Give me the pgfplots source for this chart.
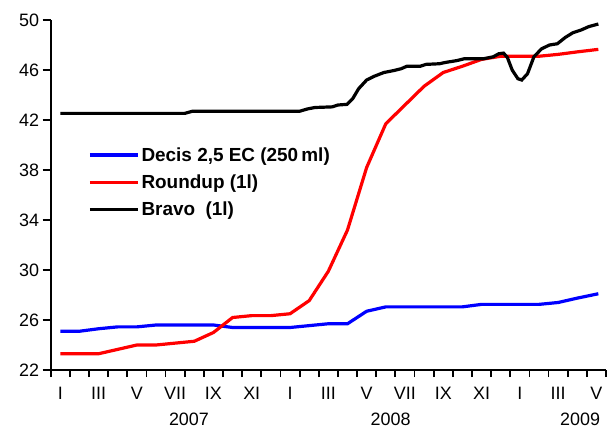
\documentclass[border=0pt]{standalone}
\usepackage{fontspec}
\setmainfont{Liberation Sans}
\usepackage{pgfplots}
\pgfplotsset{compat=1.18}

\begin{document}
\begin{tikzpicture}
\begin{axis}[
    scale only axis,
    width=555.3bp, height=350bp,
    xmin=-0.5, xmax=28.5,
    ymin=22, ymax=50,
    axis x line*=bottom, axis y line*=left,
    axis line style={line width=1.8bp},
    ytick={22,26,...,50},
    xtick={0,2,...,28},
    xticklabels={I,III,V,VII,IX,XI,I,III,V,VII,IX,XI,I,III,V},
    minor xtick={-0.5,0.5,...,28.5},
    major x tick style={draw=none},
    minor tick length=7bp,
    major tick length=8bp,
    tick align=outside,
    tick style={line width=1.8bp, black},
    ticklabel style={font=\fontsize{18}{20}\selectfont},
    xticklabel style={yshift=-6bp},
    /pgf/number format/assume math mode=true,
    clip=false,
    legend cell align=left,
    legend style={at={(0.062,0.648)}, anchor=north west, draw=none, fill=none,
        font=\fontsize{19}{21}\selectfont\bfseries, row sep=8bp},
    legend image code/.code={\draw[#1] (0bp,0bp) -- (48bp,0bp);},
]
\addplot[blue, line width=3.2bp] coordinates {
(0,25.1)(1,25.1)(2,25.3)(3,25.45)(4,25.45)(5,25.6)(6,25.6)(7,25.6)(8,25.6)
(9,25.4)(10,25.4)(11,25.4)(12,25.4)(13,25.55)(14,25.7)(15,25.7)(16,26.7)
(17,27.05)(18,27.05)(19,27.05)(20,27.05)(21,27.05)(22,27.25)(23,27.25)
(24,27.25)(25,27.25)(26,27.4)(27,27.75)(28.1,28.1)
};
\addlegendentry{Decis 2,5 EC (250\,ml)}
\addplot[red, line width=3.2bp] coordinates {
(0,23.3)(1,23.3)(2,23.3)(3,23.65)(4,24.0)(5,24.0)(6,24.15)(7,24.3)(8,25.0)
(9,26.2)(10,26.35)(11,26.35)(12,26.5)(13,27.55)(14,29.9)(15,33.2)(16,38.2)
(17,41.7)(18,43.2)(19,44.7)(20,45.8)(21,46.3)(22,46.85)(23,47.1)(24,47.1)
(25,47.1)(26,47.25)(27,47.45)(28.1,47.65)
};
\addlegendentry{Roundup (1l)}
\addplot[black, line width=3.2bp] coordinates {
(0,42.53)(6.5,42.53)(6.9,42.7)(12.5,42.7)(12.9,42.88)(13.3,43.0)(14.2,43.05)
(14.5,43.2)(14.97,43.25)(15.27,43.7)(15.58,44.5)(16,45.2)(16.4,45.5)
(16.9,45.8)(17.4,45.95)(17.8,46.1)(18.1,46.3)(18.8,46.3)(19.1,46.45)
(19.8,46.5)(20.1,46.6)(20.7,46.75)(21.1,46.9)(22.1,46.9)(22.6,47.05)
(22.9,47.3)(23.15,47.35)(23.35,47.0)(23.6,46.0)(23.9,45.3)(24.1,45.2)
(24.4,45.7)(24.74,47.07)(25.14,47.7)(25.55,48.0)(25.96,48.1)(26.37,48.6)
(26.77,48.98)(27.2,49.2)(27.6,49.47)(28.1,49.68)
};
\addlegendentry{Bravo\ \ (1l)}
\node[font=\fontsize{18}{20}\selectfont, inner sep=0pt] at (axis cs:6.72,22) [yshift=-49bp] {2007};
\node[font=\fontsize{18}{20}\selectfont, inner sep=0pt] at (axis cs:17.25,22) [yshift=-49bp] {2008};
\node[font=\fontsize{18}{20}\selectfont, inner sep=0pt] at (axis cs:27.15,22) [yshift=-49bp] {2009};
\end{axis}
\pgfresetboundingbox
\path (current axis.south west) ++(-50.7bp,-58bp) coordinate (bl);
\path (current axis.north east) ++(3bp,20bp) coordinate (tr);
\path (bl) rectangle (tr);
\end{tikzpicture}
\end{document}
